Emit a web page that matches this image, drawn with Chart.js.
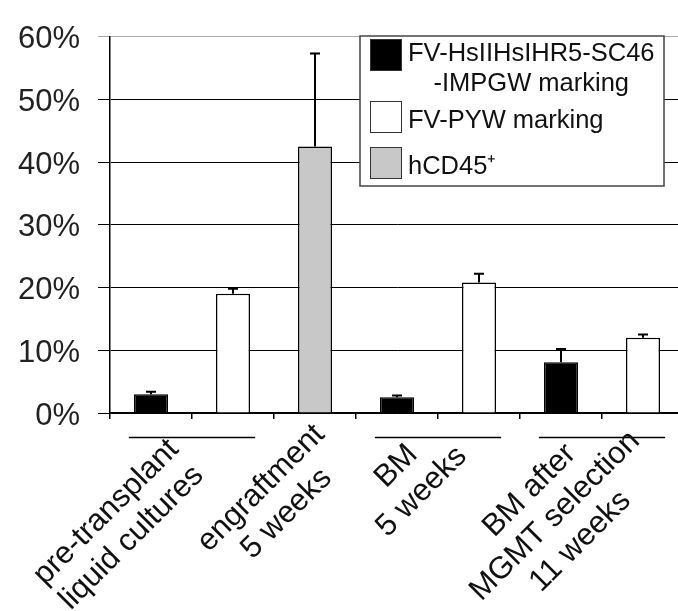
<!DOCTYPE html>
<html>
<head>
<meta charset="utf-8">
<script src="https://cdn.jsdelivr.net/npm/chart.js@4.4.0/dist/chart.umd.min.js"></script>
<style>
  body { margin: 0; background: #fff; overflow: hidden; }
  #wrap { width: 678px; height: 611px; overflow: hidden; }
</style>
</head>
<body>
<div id="wrap"><canvas id="chartMarcaje" width="684" height="611"></canvas></div>
<script>
// datos
const grupos = [
  ["pre-transplant", "liquid cultures"],
  ["engraftment", "5 weeks"],
  ["BM", "5 weeks"],
  ["BM after", "MGMT selection", "11 weeks"],
];
const grupoDeBarra = [0, 0, 1, 2, 2, 3, 3];
const categorias = grupoDeBarra.map((g) => grupos[g].join(" "));

const nombresSeries = ["FV-HsIIHsIHR5-SC46\n-IMPGW marking", "FV-PYW marking", "hCD45⁺"];

const valoresNegro = [3.0, null, null, 2.5, null, 8.1, null];
const errorNegro = [3.4, null, null, 2.8, null, 10.2, null];
const valoresBlanco = [null, 19.0, null, null, 20.8, null, 12.0];
const errorBlanco = [null, 19.8, null, null, 22.2, null, 12.5];
const valoresGris = [null, null, 42.5, null, null, null, null];
const errorGris = [null, null, 57.3, null, null, null, null];

const ticksY = [0, 10, 20, 30, 40, 50, 60];

const FUENTE = "'Liberation Sans', Arial, sans-serif";

// desplazamiento del centro de cada etiqueta girada (px, respecto al centro del grupo)
const ajusteEtiquetas = [
  [-73, 112],
  [-41, 88],
  [-29, 66],
  [-47, 103],
];

// barras de error (solo hacia arriba)
const pluginErrores = {
  id: "errores",
  afterDatasetsDraw(chart) {
    const ctx = chart.ctx;
    const y = chart.scales.y;
    const errores = [errorNegro, errorBlanco, errorGris];
    ctx.save();
    ctx.strokeStyle = "#000";
    ctx.lineWidth = 2;
    errores.forEach((serie, i) => {
      const meta = chart.getDatasetMeta(i);
      serie.forEach((e, j) => {
        if (e === null) return;
        const barra = meta.data[j];
        const yTop = y.getPixelForValue(e);
        ctx.beginPath();
        ctx.moveTo(barra.x, barra.y);
        ctx.lineTo(barra.x, yTop);
        ctx.moveTo(barra.x - 5, yTop);
        ctx.lineTo(barra.x + 5, yTop);
        ctx.stroke();
      });
    });
    ctx.restore();
  },
};

// etiquetas giradas, lineas bajo los grupos y leyenda
const pluginEtiquetas = {
  id: "etiquetas",
  afterDraw(chart) {
    const ctx = chart.ctx;
    const x = chart.scales.x;
    const area = chart.chartArea;
    const paso = x.getPixelForValue(1) - x.getPixelForValue(0);
    ctx.save();

    grupos.forEach((lineas, g) => {
      const idx = grupoDeBarra.map((b, i) => (b === g ? i : -1)).filter((i) => i >= 0);
      const x0 = x.getPixelForValue(idx[0]);
      const x1 = x.getPixelForValue(idx[idx.length - 1]);
      const cx = (x0 + x1) / 2;

      if (idx.length > 1) {
        ctx.strokeStyle = "#000";
        ctx.lineWidth = 1.5;
        ctx.beginPath();
        ctx.moveTo(x0 - paso * 0.27, area.bottom + 24.5);
        ctx.lineTo(x1 + paso * 0.27, area.bottom + 24.5);
        ctx.stroke();
      }

      ctx.font = "31px " + FUENTE;
      ctx.fillStyle = "#111";
      ctx.textAlign = "center";
      ctx.textBaseline = "middle";
      const alto = 36;
      ctx.save();
      ctx.translate(cx + ajusteEtiquetas[g][0], area.bottom + ajusteEtiquetas[g][1]);
      ctx.rotate(-Math.PI / 4);
      lineas.forEach((l, k) => {
        ctx.fillText(l, 0, (k - (lineas.length - 1) / 2) * alto);
      });
      ctx.restore();
    });

    // leyenda
    const lx = 360, ly = 36, lw = 304, lh = 150;
    ctx.fillStyle = "#fff";
    ctx.fillRect(lx, ly, lw, lh);
    ctx.strokeStyle = "#444";
    ctx.lineWidth = 1.5;
    ctx.strokeRect(lx, ly, lw, lh);
    ctx.font = "25.5px " + FUENTE;
    ctx.textBaseline = "alphabetic";
    const filas = [39, 101, 147];
    chart.data.datasets.forEach((ds, i) => {
      const sy = filas[i];
      ctx.fillStyle = ds.backgroundColor;
      ctx.fillRect(lx + 10, sy, 32, 32);
      ctx.strokeStyle = "#333";
      ctx.lineWidth = 1;
      ctx.strokeRect(lx + 10.5, sy + 0.5, 31, 31);
      ctx.fillStyle = "#111";
      const lineas = ds.label.split("\n");
      if (lineas.length > 1) {
        ctx.textAlign = "center";
        const ancho = Math.max(...lineas.map((l) => ctx.measureText(l).width));
        lineas.forEach((l, k) => ctx.fillText(l, lx + 48 + ancho / 2, sy + 22 + k * 30));
      } else {
        ctx.textAlign = "left";
        ctx.fillText(lineas[0], lx + 48, sy + 27);
      }
    });
    ctx.restore();
  },
};

const ctx = document.getElementById("chartMarcaje").getContext("2d");

new Chart(ctx, {
  type: "bar",
  data: {
    labels: categorias,
    datasets: [
      { label: nombresSeries[0], data: valoresNegro, backgroundColor: "#000000", borderColor: "#000", borderWidth: 1.5 },
      { label: nombresSeries[1], data: valoresBlanco, backgroundColor: "#ffffff", borderColor: "#000", borderWidth: 1.5 },
      { label: nombresSeries[2], data: valoresGris, backgroundColor: "#c8c8c8", borderColor: "#000", borderWidth: 1.5 },
    ],
  },
  options: {
    responsive: false,
    animation: false,
    layout: { padding: { top: 18, right: 0, left: 0, bottom: 0 } },
    datasets: { bar: { categoryPercentage: 1, barPercentage: 0.415 } },
    plugins: {
      legend: { display: false },
      tooltip: { enabled: false },
    },
    scales: {
      x: {
        stacked: true,
        offset: true,
        grid: { offset: true, drawOnChartArea: false, tickLength: 6, color: "#000", lineWidth: 1.5 },
        border: { display: true, color: "#000", width: 1.5 },
        ticks: { display: false },
        afterFit(scale) { scale.height = 198; },
      },
      y: {
        stacked: true,
        min: 0,
        max: 60,
        afterBuildTicks(scale) { scale.ticks = ticksY.map((v) => ({ value: v })); },
        grid: {
          color: (c) => (c.tick && c.tick.value === 60 ? "#aaa" : "#000"),
          lineWidth: 1,
          tickLength: 12,
        },
        border: { display: true, color: "#000", width: 1.5 },
        ticks: {
          padding: 18,
          labelOffset: 3,
          color: "#222",
          font: { family: FUENTE, size: 31 },
          callback: (v) => v + "%",
        },
        afterFit(scale) { scale.width = 110; },
      },
    },
  },
  plugins: [pluginErrores, pluginEtiquetas],
});
</script>
</body>
</html>
